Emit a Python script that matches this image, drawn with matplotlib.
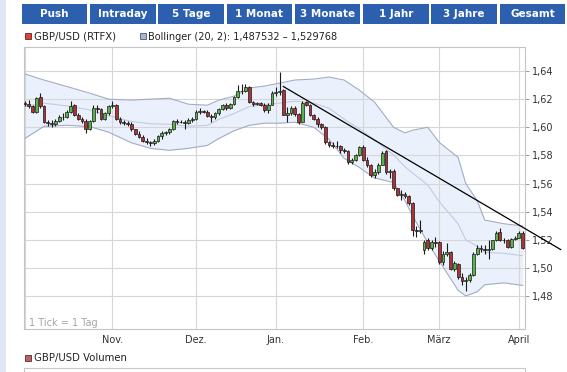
import numpy as np
import matplotlib
matplotlib.use('Agg')
import matplotlib.pyplot as plt
from matplotlib.patches import Rectangle

# buttons above the chart
buttons = ['Push', 'Intraday', '5 Tage', '1 Monat', '3 Monate', '1 Jahr', '3 Jahre', 'Gesamt']

# daily candles, 1 Oct 2012 .. 2 Apr 2013 (weekdays)
opens = [
    # Okt
    1.6170, 1.6165, 1.6150, 1.6110, 1.6215, 1.6150, 1.6040, 1.6030, 1.6025, 1.6045,
    1.6070, 1.6075, 1.6110, 1.6155, 1.6090, 1.6060, 1.6045, 1.5990, 1.6045, 1.6140,
    1.6130, 1.6060, 1.6100,
    # Nov
    1.6150, 1.6155, 1.6060, 1.6035, 1.6030, 1.6025, 1.5985, 1.5950, 1.5930, 1.5905,
    1.5895, 1.5885, 1.5905, 1.5935, 1.5960, 1.5965, 1.5985, 1.6045, 1.6040, 1.6040,
    1.6030, 1.6050,
    # Dez
    1.6060, 1.6110, 1.6115, 1.6110, 1.6080, 1.6070, 1.6100, 1.6130, 1.6160, 1.6140,
    1.6165, 1.6215, 1.6255, 1.6260, 1.6285, 1.6180, 1.6165, 1.6170, 1.6160, 1.6120,
    1.6160,
    # Jan
    1.6245, 1.6250, 1.6264, 1.6090, 1.6100, 1.6140, 1.6095, 1.6040, 1.6180, 1.6160,
    1.6090, 1.6060, 1.6020, 1.6000, 1.5895, 1.5875, 1.5870, 1.5865, 1.5835, 1.5830,
    1.5750, 1.5770, 1.5800,
    # Feb
    1.5860, 1.5770, 1.5735, 1.5660, 1.5680, 1.5735, 1.5830, 1.5680, 1.5690, 1.5565,
    1.5520, 1.5525, 1.5510, 1.5460, 1.5270, 1.5260, 1.5125, 1.5195, 1.5140, 1.5185,
    # Maerz
    1.5185, 1.5040, 1.5100, 1.5110, 1.4995, 1.5030, 1.4935, 1.4910, 1.4915, 1.4950,
    1.5100, 1.5140, 1.5135, 1.5130, 1.5135, 1.5195, 1.5255, 1.5200, 1.5195, 1.5150,
    1.5205,
    # April
    1.5215, 1.5250,
]
highs = [
    1.6190, 1.6195, 1.6160, 1.6215, 1.6243, 1.6155, 1.6055, 1.6050, 1.6060, 1.6085,
    1.6100, 1.6120, 1.6190, 1.6165, 1.6100, 1.6075, 1.6060, 1.6050, 1.6155, 1.6160,
    1.6140, 1.6110, 1.6160,
    1.6190, 1.6165, 1.6070, 1.6050, 1.6045, 1.6040, 1.5990, 1.5975, 1.5945, 1.5925,
    1.5905, 1.5915, 1.5945, 1.5970, 1.5975, 1.5995, 1.6055, 1.6060, 1.6055, 1.6050,
    1.6065, 1.6075,
    1.6120, 1.6135, 1.6125, 1.6120, 1.6095, 1.6110, 1.6140, 1.6165, 1.6170, 1.6175,
    1.6225, 1.6300, 1.6310, 1.6310, 1.6295, 1.6190, 1.6180, 1.6180, 1.6170, 1.6175,
    1.6255,
    1.6290, 1.6390, 1.6270, 1.6145, 1.6150, 1.6150, 1.6100, 1.6185, 1.6190, 1.6165,
    1.6095, 1.6070, 1.6030, 1.6010, 1.5905, 1.5895, 1.5905, 1.5875, 1.5855, 1.5835,
    1.5780, 1.5810, 1.5870,
    1.5875, 1.5785, 1.5740, 1.5700, 1.5745, 1.5830, 1.5840, 1.5700, 1.5700, 1.5570,
    1.5555, 1.5540, 1.5520, 1.5465, 1.5300, 1.5340, 1.5200, 1.5210, 1.5200, 1.5220,
    1.5190, 1.5120, 1.5180, 1.5120, 1.5050, 1.5035, 1.4960, 1.4935, 1.4960, 1.5110,
    1.5160, 1.5160, 1.5160, 1.5200, 1.5200, 1.5260, 1.5280, 1.5215, 1.5205, 1.5215,
    1.5225,
    1.5260, 1.5265,
]
lows = [
    1.6150, 1.6135, 1.6100, 1.6105, 1.6140, 1.6030, 1.6010, 1.6000, 1.6010, 1.6035,
    1.6055, 1.6065, 1.6100, 1.6080, 1.6050, 1.6030, 1.5960, 1.5980, 1.6040, 1.6100,
    1.6050, 1.6050, 1.6090,
    1.6140, 1.6050, 1.6025, 1.6015, 1.6010, 1.5975, 1.5945, 1.5925, 1.5895, 1.5880,
    1.5870, 1.5875, 1.5895, 1.5920, 1.5945, 1.5950, 1.5980, 1.6025, 1.6030, 1.5985,
    1.6020, 1.6040,
    1.6055, 1.6095, 1.6100, 1.6070, 1.6040, 1.6060, 1.6090, 1.6120, 1.6125, 1.6130,
    1.6160, 1.6205, 1.6240, 1.6250, 1.6170, 1.6150, 1.6155, 1.6150, 1.6110, 1.6100,
    1.6155,
    1.6225, 1.6230, 1.6085, 1.6040, 1.6090, 1.6080, 1.6020, 1.6035, 1.6150, 1.6080,
    1.6050, 1.6000, 1.5985, 1.5880, 1.5860, 1.5855, 1.5855, 1.5820, 1.5815, 1.5740,
    1.5740, 1.5760, 1.5795,
    1.5760, 1.5720, 1.5645, 1.5640, 1.5670, 1.5730, 1.5670, 1.5640, 1.5555, 1.5510,
    1.5480, 1.5500, 1.5450, 1.5230, 1.5220, 1.5250, 1.5100, 1.5130, 1.5130, 1.5150,
    1.5030, 1.5020, 1.5085, 1.4985, 1.4980, 1.4920, 1.4880, 1.4835, 1.4900, 1.4945,
    1.5090, 1.5115, 1.5100, 1.5060, 1.5125, 1.5190, 1.5190, 1.5175, 1.5140, 1.5140,
    1.5195,
    1.5210, 1.5135,
]
closes = [
    1.6165, 1.6150, 1.6110, 1.6205, 1.6150, 1.6040, 1.6030, 1.6025, 1.6045, 1.6070,
    1.6075, 1.6110, 1.6150, 1.6090, 1.6060, 1.6045, 1.5990, 1.6045, 1.6140, 1.6130,
    1.6060, 1.6100, 1.6150,
    1.6155, 1.6060, 1.6035, 1.6030, 1.6025, 1.5985, 1.5950, 1.5930, 1.5905, 1.5895,
    1.5885, 1.5905, 1.5935, 1.5960, 1.5965, 1.5985, 1.6045, 1.6040, 1.6040, 1.6030,
    1.6050, 1.6060,
    1.6110, 1.6115, 1.6110, 1.6080, 1.6070, 1.6100, 1.6130, 1.6160, 1.6140, 1.6165,
    1.6215, 1.6255, 1.6260, 1.6285, 1.6180, 1.6165, 1.6170, 1.6160, 1.6120, 1.6160,
    1.6245,
    1.6250, 1.6255, 1.6090, 1.6100, 1.6140, 1.6095, 1.6040, 1.6175, 1.6160, 1.6090,
    1.6060, 1.6020, 1.6000, 1.5895, 1.5875, 1.5870, 1.5865, 1.5835, 1.5830, 1.5750,
    1.5770, 1.5800, 1.5860,
    1.5770, 1.5735, 1.5660, 1.5680, 1.5735, 1.5820, 1.5680, 1.5690, 1.5565, 1.5520,
    1.5525, 1.5510, 1.5460, 1.5270, 1.5260, 1.5270, 1.5185, 1.5140, 1.5185, 1.5180,
    1.5040, 1.5100, 1.5110, 1.4995, 1.5035, 1.4935, 1.4910, 1.4915, 1.4950, 1.5100,
    1.5140, 1.5135, 1.5130, 1.5135, 1.5195, 1.5250, 1.5200, 1.5195, 1.5150, 1.5205,
    1.5215,
    1.5245, 1.5140,
]

# Bollinger (20, 2) band at some candles
band_idx = [0, 5, 11, 17, 22, 28, 33, 38, 43, 48, 51, 55, 59, 63, 67, 71,
            76, 80, 84, 88, 92, 97, 100, 102, 106, 109, 114, 116, 119, 121, 126, 131]
band_upper = [1.6379, 1.6336, 1.6290, 1.6243, 1.6200, 1.6193, 1.6200, 1.6207,
              1.6164, 1.6157, 1.6193, 1.6221, 1.6279, 1.6293, 1.6314, 1.6336,
              1.6343, 1.6357, 1.6336, 1.6264, 1.6179, 1.6000, 1.5960, 1.5979,
              1.6000, 1.5893, 1.5786, 1.5600, 1.5479, 1.5340, 1.5314, 1.5298]
band_lower = [1.5921, 1.6007, 1.6014, 1.6005, 1.5965, 1.5890, 1.5850, 1.5836,
              1.5850, 1.5871, 1.5920, 1.5975, 1.6014, 1.6029, 1.6029, 1.6036,
              1.6000, 1.5915, 1.5779, 1.5714, 1.5640, 1.5607, 1.5479, 1.5370,
              1.5180, 1.5050, 1.4840, 1.4800, 1.4830, 1.4880, 1.4893, 1.4875]

# hand drawn trend line
trend_idx = [68, 141]
trend_val = [1.6290, 1.5130]

month_idx = [0, 23, 45, 66, 89, 109, 130]
month_lab = ['', 'Nov.', 'Dez.', 'Jan.', 'Feb.', 'März', 'April']
yticks = [1.48, 1.50, 1.52, 1.54, 1.56, 1.58, 1.60, 1.62, 1.64]

W, H = 567, 372
fig = plt.figure(figsize=(W / 100, H / 100), dpi=100)
fig.patch.set_facecolor('white')


def box(x, y, w, h, **kw):
    # pixel box measured from the top left corner
    r = Rectangle((x / W, 1 - (y + h) / H), w / W, h / H,
                  transform=fig.transFigure, **kw)
    fig.patches.append(r)
    return r


# page strip on the left
box(0, 0, 6, H, facecolor='#dfe7f7', edgecolor='none')

# period buttons
for k, lab in enumerate(buttons):
    x0 = 21.7 + k * 68.3
    box(x0, 4, 65.5, 20, facecolor='#2c5fae', edgecolor='none')
    fig.text((x0 + 32.7) / W, 1 - 14 / H, lab, color='white', fontsize=7.5,
             weight='bold', ha='center', va='center')

# legend row
box(24.5, 33, 6, 6, facecolor='#d8443c', edgecolor='#6b2020', lw=0.6)
fig.text(34 / W, 1 - 36.5 / H, 'GBP/USD (RTFX)', fontsize=7.3, color='#222222', va='center')
box(139.5, 33, 6, 6, facecolor='#aab5d5', edgecolor='#4f5a75', lw=0.6)
fig.text(148.5 / W, 1 - 36.5 / H, 'Bollinger (20, 2): 1,487532 \u2013 1,529768',
         fontsize=7, color='#222222', va='center')

# volume header
box(24.5, 355, 6, 6, facecolor='#b96565', edgecolor='#5a2a2a', lw=0.6)
fig.text(34 / W, 1 - 358 / H, 'GBP/USD Volumen', fontsize=7.3, color='#222222', va='center')
box(24, 368, 501, 12, facecolor='white', edgecolor='#c8c8c8', lw=0.8)

ax = fig.add_axes([24 / W, 1 - 329 / H, 501 / W, 282 / H])
ax.set_xlim(-0.26, 131.6)
ax.set_ylim(1.4565, 1.6571)

for v in yticks:
    ax.axhline(v, color='#d6d6d6', lw=0.8, zorder=1.5)
for m in month_idx:
    ax.axvline(m, color='#d6d6d6', lw=0.8, zorder=1.5)

# bollinger band
mid = [(u + l) / 2 for u, l in zip(band_upper, band_lower)]
ax.fill_between(band_idx, band_lower, band_upper, color='#eaf1fc', lw=0, zorder=1)
ax.plot(band_idx, band_upper, color='#a3adc3', lw=0.8, zorder=2)
ax.plot(band_idx, band_lower, color='#a3adc3', lw=0.8, zorder=2)
ax.plot(band_idx, mid, color='#c2cce0', lw=0.8, zorder=2)

# candles
idx = np.arange(len(closes))
o = np.array(opens)
c = np.array(closes)
cols = np.where(c >= o, '#5bb248', '#ad3336')
ax.vlines(idx, lows, highs, color='#1a1a1a', lw=0.8, zorder=3)
ax.bar(idx, np.abs(c - o), bottom=np.minimum(o, c), width=0.75, color=cols,
       edgecolor='#1a1a1a', lw=0.5, zorder=4)

ax.plot(trend_idx, trend_val, color='black', lw=0.9, zorder=5, clip_on=False)

ax.text(5 / 501, 6.5 / 282, '1 Tick = 1 Tag', transform=ax.transAxes,
        fontsize=7, color='#a5a5a5', va='center')

ax.yaxis.tick_right()
ax.set_yticks(yticks)
ax.set_yticklabels([('%.2f' % v).replace('.', ',') for v in yticks])
ax.tick_params(axis='y', length=3, width=0.6, color='#888888', labelsize=7,
               labelcolor='#333333', pad=2)
ax.set_xticks(month_idx)
ax.set_xticklabels(month_lab)
ax.tick_params(axis='x', length=0, labelsize=7, labelcolor='#333333', pad=4)
for s in ax.spines.values():
    s.set_color('#c4c4c4')
    s.set_linewidth(0.8)

fig.savefig('out.png', dpi=100)
